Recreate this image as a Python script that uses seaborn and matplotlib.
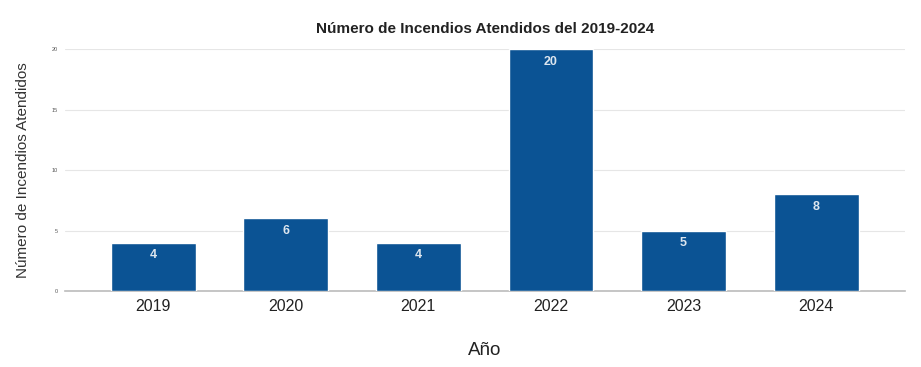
import seaborn as sns
import matplotlib.pyplot as plt
import pandas as pd

years = ['2019', '2020', '2021', '2022', '2023', '2024']
incendios = [4, 6, 4, 20, 5, 8]

df = pd.DataFrame({'Año': years, 'Incendios': incendios})

sns.set_style('white')
plt.rcParams['font.family'] = ['Liberation Sans', 'DejaVu Sans']

fig = plt.figure(figsize=(9.21, 3.67), dpi=100)
ax = fig.add_axes([0.0706, 0.207, 0.912, 0.659])

sns.barplot(data=df, x='Año', y='Incendios', color='#0b5394', saturation=1,
            width=0.64, ax=ax, zorder=3)

for i, v in enumerate(incendios):
    ax.text(i, v - 0.55, str(v), ha='center', va='top', color='#dde6ef',
            fontsize=9, fontweight='bold', zorder=4)

ax.set_ylim(0, 20)
ax.set_xlim(-0.665, 5.67)
ax.set_yticks([0, 5, 10, 15, 20])
ax.tick_params(axis='y', labelsize=4, colors='#555555', length=0, pad=5)
ax.tick_params(axis='x', labelsize=11.5, colors='#222222', length=0, pad=6)
ax.yaxis.grid(True, color='#e6e6e6', linewidth=0.8, zorder=0)
for s in ['top', 'right', 'left']:
    ax.spines[s].set_visible(False)
ax.spines['bottom'].set_color('#bbbbbb')
ax.spines['bottom'].set_linewidth(1.2)

ax.set_title('Número de Incendios Atendidos del 2019-2024', fontsize=11,
             fontweight='bold', color='#222222', pad=12)
ax.set_xlabel('Año', fontsize=13.5, color='#222222', labelpad=20)
ax.set_ylabel('Número de Incendios Atendidos', fontsize=11, color='#333333', labelpad=16)

fig.savefig('out.png', dpi=100)
